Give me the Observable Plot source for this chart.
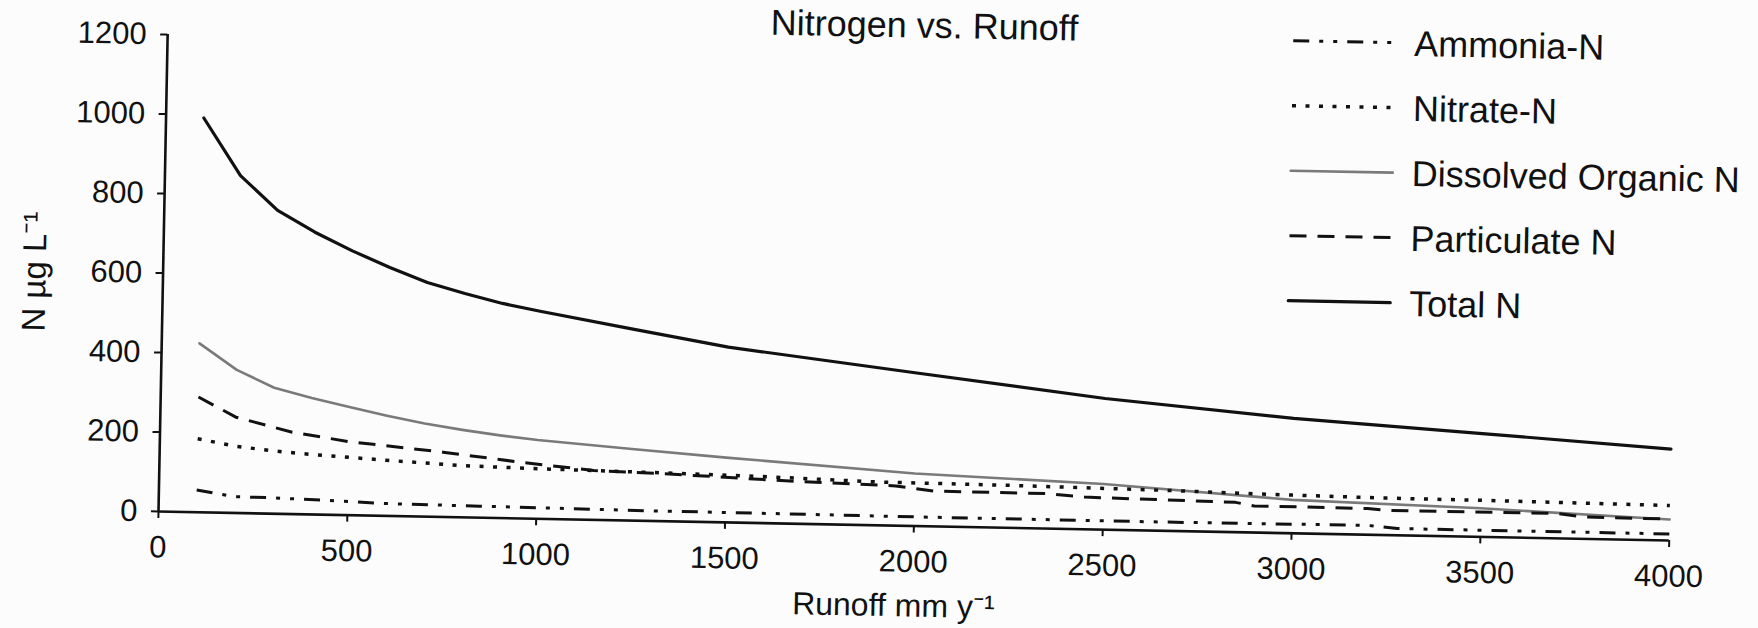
<!DOCTYPE html>
<html><head><meta charset="utf-8">
<script src="https://cdn.jsdelivr.net/npm/d3@7"></script>
<script src="https://cdn.jsdelivr.net/npm/@observablehq/plot@0.6"></script>
<style>
html,body{margin:0;padding:0;background:#fcfcfc;overflow:hidden;width:1758px;height:628px}
#page{position:relative;width:1758px;height:628px;transform:rotate(1.1deg);transform-origin:158px 511px;font-family:"Liberation Sans",Arial,Helvetica,sans-serif;color:#111}
#chart svg{display:block}
#overlay{position:absolute;left:0;top:0;overflow:visible}
</style></head><body>
<div id="page"><div id="chart"></div><svg id="overlay" width="1758" height="628"></svg></div>
<script>
// ---- data ----
const seriesNames = ["Ammonia-N", "Nitrate-N", "Dissolved Organic N", "Particulate N", "Total N"];

const runoffAmmonia = [100,200,300,450,600,850,1100,1300,1650,2000,2650,3200,3280,4000];
const ammoniaN      = [56,41,40,36,31,29,27,25.5,24.5,23,22,23.5,17,16.5];

const runoffNitrate = [100,200,300,400,600,800,1000,1300,1600,1900,2250,2650,3000,3250,3500,4000];
const nitrateN      = [185,168,158,151,140,130,126,122,117,109,107,102,96,93,92,88];

const runoffDON = [100,200,300,400,500,600,700,800,900,1000,1250,1500,2000,2500,3000,3500,4000];
const donN      = [425,360,317,293,272,252,234,220,208,198,180,163,132,115,84,72,53];

const runoffPart = [100,200,350,500,750,950,1150,1350,1700,1950,2050,2350,2450,2850,2900,3200,3250,3700,3770,4000];
const particN    = [290,241,206,185,163,142,124,119,106,100,89,88,81,75,67,66,62,63,55,54];

const runoffTotal = [100,200,300,400,500,600,700,800,900,1000,1250,1500,2000,2500,3000,3500,4000];
const totalN      = [992,849,763,710,665,625,589,563,540,522,481,441,385,330,289,260,230];

const xTicks = [0,500,1000,1500,2000,2500,3000,3500,4000];
const yTicks = [0,200,400,600,800,1000,1200];

const titleText = "Nitrogen vs. Runoff";
const xLabel = "Runoff mm y\u207B\u00B9";
const yLabel = "N \u00B5g L\u207B\u00B9";

// ---- styles ----
const lineStyles = {
  "Ammonia-N":           {stroke: "#111", width: 3,   dash: "16,10,4,10,4,10", cap: "butt"},
  "Nitrate-N":           {stroke: "#111", width: 3.5, dash: "4,9.5",           cap: "butt"},
  "Dissolved Organic N": {stroke: "#7a7a7a", width: 2.6, dash: null,           cap: "round"},
  "Particulate N":       {stroke: "#111", width: 3,   dash: "17,11",           cap: "butt"},
  "Total N":             {stroke: "#111", width: 3.2, dash: null,              cap: "round"}
};

const zip = (xs, ys, name) => xs.map((x, i) => ({runoff: x, value: ys[i], series: name}));
const seriesData = {
  "Ammonia-N": zip(runoffAmmonia, ammoniaN, "Ammonia-N"),
  "Nitrate-N": zip(runoffNitrate, nitrateN, "Nitrate-N"),
  "Dissolved Organic N": zip(runoffDON, donN, "Dissolved Organic N"),
  "Particulate N": zip(runoffPart, particN, "Particulate N"),
  "Total N": zip(runoffTotal, totalN, "Total N")
};

const drawOrder = ["Dissolved Organic N", "Nitrate-N", "Particulate N", "Ammonia-N", "Total N"];

const chart = Plot.plot({
  width: 1758,
  height: 628,
  marginLeft: 158,
  marginRight: 89,
  marginTop: 34,
  marginBottom: 117,
  style: {background: "transparent", fontFamily: "'Liberation Sans', Arial, Helvetica, sans-serif", fontSize: "31px", color: "#111"},
  x: {domain: [0, 4000]},
  y: {domain: [0, 1200]},
  marks: [
    Plot.axisX({ticks: xTicks, tickFormat: d => String(d), tickSize: 7, tickPadding: 17, strokeWidth: 2, label: null, fontSize: 31}),
    Plot.axisY({ticks: yTicks, tickFormat: d => String(d), tickSize: 7, tickPadding: 14, strokeWidth: 2, label: null, fontSize: 31}),
    Plot.ruleY([0], {stroke: "#111", strokeWidth: 2.6}),
    Plot.ruleX([0], {stroke: "#111", strokeWidth: 2.6}),
    ...drawOrder.map(name => {
      const s = lineStyles[name];
      return Plot.line(seriesData[name], {
        x: "runoff", y: "value",
        stroke: s.stroke, strokeWidth: s.width,
        strokeDasharray: s.dash || undefined,
        strokeLinecap: s.cap, strokeLinejoin: "round"
      });
    })
  ]
});
document.getElementById("chart").appendChild(chart);

// ---- title, axis titles and legend (overlay, same rotated frame) ----
const ov = d3.select("#overlay");
const font = "'Liberation Sans', Arial, Helvetica, sans-serif";

ov.append("text").attr("x", 915).attr("y", 23).attr("text-anchor", "middle")
  .attr("font-family", font).attr("font-size", 36).attr("fill", "#111").text(titleText);

ov.append("text").attr("x", 895).attr("y", 602).attr("text-anchor", "middle")
  .attr("font-family", font).attr("font-size", 32).attr("fill", "#111").text(xLabel);

ov.append("text").attr("transform", "translate(41,274) rotate(-90)").attr("text-anchor", "middle")
  .attr("font-family", font).attr("font-size", 33).attr("fill", "#111").text(yLabel);

const legendX0 = 1284, legendX1 = 1386, legendTextX = 1405, legendY0 = 19, legendStep = 65;
seriesNames.forEach((name, i) => {
  const s = lineStyles[name];
  const y = legendY0 + i * legendStep;
  const ln = ov.append("line").attr("x1", legendX0).attr("x2", legendX1).attr("y1", y).attr("y2", y)
    .attr("stroke", s.stroke).attr("stroke-width", s.width).attr("stroke-linecap", s.cap);
  if (s.dash) ln.attr("stroke-dasharray", s.dash);
  ov.append("text").attr("x", legendTextX).attr("y", y + 13)
    .attr("font-family", font).attr("font-size", 36).attr("fill", "#111").text(name);
});
</script>
</body></html>
